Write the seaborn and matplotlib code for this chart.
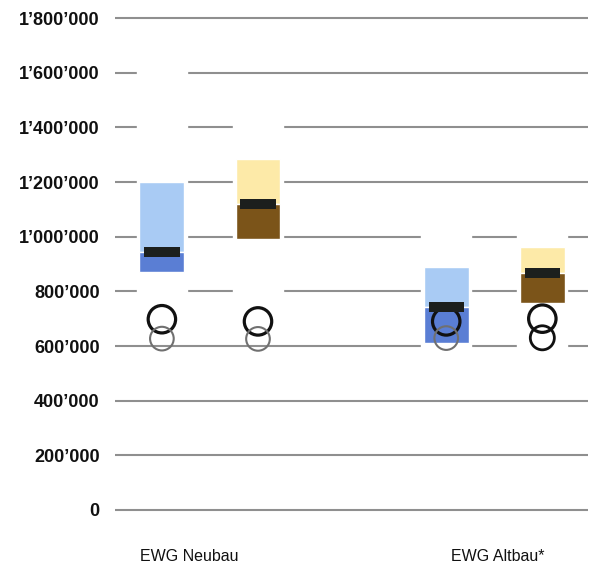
import pandas as pd
import numpy as np
import matplotlib
matplotlib.use("Agg")
import matplotlib.pyplot as plt
from matplotlib.ticker import FuncFormatter
import seaborn as sns

# Daten
gruppen = ["EWG Neubau", "EWG Altbau*"]
reihen = ["blau", "braun"]
q1 = [872000, 990000, 612000, 758000]
median = [944000, 1120000, 742000, 868000]
q3 = [1200000, 1285000, 888000, 962000]
whisker_lo = [760000, 760000, 560000, 580000]
whisker_hi = [1650000, 1450000, 1080000, 1040000]
ausreisser_oben = [698000, 690000, 690000, 700000]
ausreisser_unten = [627000, 626000, 629000, 630000]
y_ticks = [0, 200000, 400000, 600000, 800000, 1000000, 1200000, 1400000, 1600000, 1800000]

df = pd.DataFrame({
    "gruppe": np.repeat(np.arange(len(gruppen)), len(reihen)),
    "reihe": np.tile(np.arange(len(reihen)), len(gruppen)),
    "q1": q1, "median": median, "q3": q3,
    "w_lo": whisker_lo, "w_hi": whisker_hi,
})
versatz = 0.169
df["x"] = df["gruppe"] + (df["reihe"] - 0.5) * 2 * versatz

farbe_hell = {0: "#a9cbf4", 1: "#fdeaa8"}
farbe_dunkel = {0: "#5a7ed4", 1: "#7b5419"}

sns.set_theme(style="whitegrid")
plt.rcParams["font.family"] = ["Liberation Sans", "DejaVu Sans"]

fig = plt.figure(figsize=(5.89, 5.64), dpi=100)
ax = fig.add_axes([0.1952, 0.0885, 0.8028, 0.8868])
ax.set_axisbelow(True)

# verdeckte Whisker (weiss) unterbrechen die Gitterlinien
ax.bar(df["x"], df["w_hi"] - df["w_lo"], bottom=df["w_lo"], width=0.176,
       color="white", zorder=1)

# Boxen: unterer Teil dunkel, oberer Teil hell
ax.bar(df["x"], df["q3"] - df["median"], bottom=df["median"], width=0.158,
       color=[farbe_hell[r] for r in df["reihe"]], zorder=2)
ax.bar(df["x"], df["median"] - df["q1"], bottom=df["q1"], width=0.158,
       color=[farbe_dunkel[r] for r in df["reihe"]], zorder=2)

# Ausreisser
pts = pd.DataFrame({
    "x": list(df["x"]) + list(df["x"]),
    "y": ausreisser_oben + ausreisser_unten,
})
sns.scatterplot(data=pts.iloc[:4], x="x", y="y", s=390, marker="o",
                edgecolor="#111111", linewidth=2.3, ax=ax, zorder=3)
ax.collections[-1].set_facecolor("none")
sns.scatterplot(data=pts.iloc[4:7], x="x", y="y", s=290, marker="o",
                edgecolor="#707070", linewidth=1.5, ax=ax, zorder=3)
ax.collections[-1].set_facecolor("none")
sns.scatterplot(data=pts.iloc[7:], x="x", y="y", s=300, marker="o",
                edgecolor="#111111", linewidth=2.0, ax=ax, zorder=3)
ax.collections[-1].set_facecolor("none")

# Median
ax.hlines(df["median"], df["x"] - 0.062, df["x"] + 0.062, color="#1c1f1d",
          linewidth=7.2, zorder=4)

ax.set_xlim(-0.334, 1.329)
ax.set_ylim(-15000, 1815000)
ax.set_yticks(y_ticks)
ax.yaxis.set_major_formatter(FuncFormatter(lambda v, p: f"{v:,.0f}".replace(",", "\u2019")))
ax.set_xticks([-0.074, 1.011])
ax.set_xticklabels(gruppen, fontsize=11.5, color="#111111")
for lab in ax.get_yticklabels():
    lab.set_fontsize(13)
    lab.set_fontweight("bold")
    lab.set_color("#111111")
ax.tick_params(axis="y", length=0, pad=11)
ax.tick_params(axis="x", length=0, pad=25)
ax.grid(axis="x", visible=False)
ax.grid(axis="y", color="#8f8f8f", linewidth=1.5)
for s in ax.spines.values():
    s.set_visible(False)
ax.set_xlabel("")
ax.set_ylabel("")

fig.savefig("out.png", dpi=100)
